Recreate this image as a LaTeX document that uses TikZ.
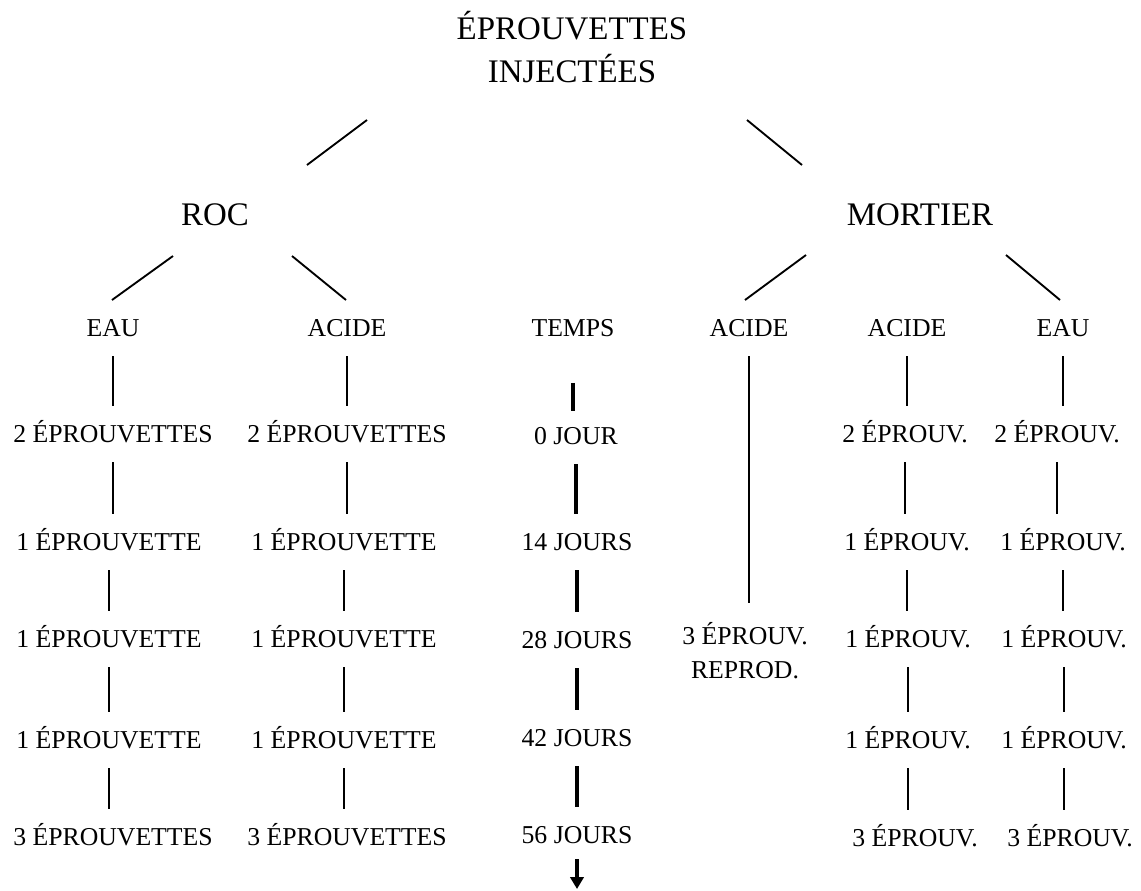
\documentclass[tikz,border=0pt]{standalone}
\usepackage{fontspec}
\setmainfont{Liberation Serif}
\usetikzlibrary{calc,arrows.meta}

\tikzset{every picture/.style={line width=1.4pt}}
\tikzset{
  lbl/.style={font=\fontsize{19.3}{25.5}\selectfont, inner sep=0pt, text height=12.8pt, text depth=0pt},
  lbltwo/.style={font=\fontsize{19.3}{25.5}\selectfont, inner sep=0pt, align=center},
  head/.style={font=\fontsize{24.7}{32}\selectfont, inner sep=0pt, align=center},
  vl/.style={shorten <=14pt, shorten >=14pt},
  tl/.style={vl, line width=2.8pt},
}

\begin{document}
\begin{tikzpicture}[x=0.75pt,y=0.75pt,yscale=-1]
\useasboundingbox (0,0) rectangle (1141,890);

% Text Node
\node[head] (titre) at (572,47) {ÉPROUVETTES\\INJECTÉES};
% Text Node
\node[head] (roc) at (215,215) {ROC};
% Text Node
\node[head] (mortier) at (920,215) {MORTIER};

% Text Node
\node[lbl] (reau) at (113,328) {EAU};
% Text Node
\node[lbl] (racide) at (347,328) {ACIDE};
% Text Node
\node[lbl] (temps) at (573,328) {TEMPS};
% Text Node
\node[lbl] (mrepacide) at (749,328) {ACIDE};
% Text Node
\node[lbl] (macide) at (907,328) {ACIDE};
% Text Node
\node[lbl] (meau) at (1063,328) {EAU};

%Straight Lines, title to ROC and MORTIER
\draw ($(titre)+(-205,73)$) -- ($(roc)+(92,-50)$);
\draw ($(titre)+(175,73)$) -- ($(mortier)+(-118,-50)$);
%Straight Lines, ROC
\draw ($(roc)+(-42,41)$) -- ($(reau)+(-1,-28)$);
\draw ($(roc)+(77,41)$) -- ($(racide)+(-1,-28)$);
%Straight Lines, MORTIER
\draw ($(mortier)+(-114,40)$) -- ($(mrepacide)+(-4,-28)$);
\draw ($(mortier)+(86,40)$) -- ($(meau)+(-3,-28)$);

% Text Node, ROC / EAU
\node[lbl] (reau1) at (113,434) {2 ÉPROUVETTES};
\node[lbl] (reau2) at (109,542) {1 ÉPROUVETTE};
\node[lbl] (reau3) at (109,639) {1 ÉPROUVETTE};
\node[lbl] (reau4) at (109,740) {1 ÉPROUVETTE};
\node[lbl] (reau5) at (113,837) {3 ÉPROUVETTES};
% Text Node, ROC / ACIDE
\node[lbl] (racide1) at (347,434) {2 ÉPROUVETTES};
\node[lbl] (racide2) at (344,542) {1 ÉPROUVETTE};
\node[lbl] (racide3) at (344,639) {1 ÉPROUVETTE};
\node[lbl] (racide4) at (344,740) {1 ÉPROUVETTE};
\node[lbl] (racide5) at (347,837) {3 ÉPROUVETTES};
% Text Node, TEMPS
\node[lbl] (t0) at (576,436) {0 JOUR};
\node[lbl] (t14) at (577,542) {14 JOURS};
\node[lbl] (t28) at (577,640) {28 JOURS};
\node[lbl] (t42) at (577,738) {42 JOURS};
\node[lbl] (t56) at (577,835) {56 JOURS};
\coordinate (tfin) at (575,889);
% Text Node, MORTIER / ACIDE (reprod.)
\node[lbltwo] (mrep) at (745,651) {3 ÉPROUV.\\REPROD.};
% Text Node, MORTIER / ACIDE
\node[lbl] (macide1) at (905,434) {2 ÉPROUV.};
\node[lbl] (macide2) at (907,542) {1 ÉPROUV.};
\node[lbl] (macide3) at (908,639) {1 ÉPROUV.};
\node[lbl] (macide4) at (908,740) {1 ÉPROUV.};
\node[lbl] (macide5) at (915,838) {3 ÉPROUV.};
% Text Node, MORTIER / EAU
\node[lbl] (meau1) at (1057,434) {2 ÉPROUV.};
\node[lbl] (meau2) at (1063,542) {1 ÉPROUV.};
\node[lbl] (meau3) at (1064,639) {1 ÉPROUV.};
\node[lbl] (meau4) at (1064,740) {1 ÉPROUV.};
\node[lbl] (meau5) at (1070,838) {3 ÉPROUV.};

%Vertical Lines, ROC / EAU
\draw[vl] (reau.south) -- (reau.south |- reau1.north);
\draw[vl] (reau1.south) -- (reau1.south |- reau2.north);
\draw[vl] (reau2.south) -- (reau2.south |- reau3.north);
\draw[vl] (reau3.south) -- (reau3.south |- reau4.north);
\draw[vl] (reau4.south) -- (reau4.south |- reau5.north);
%Vertical Lines, ROC / ACIDE
\draw[vl] (racide.south) -- (racide.south |- racide1.north);
\draw[vl] (racide1.south) -- (racide1.south |- racide2.north);
\draw[vl] (racide2.south) -- (racide2.south |- racide3.north);
\draw[vl] (racide3.south) -- (racide3.south |- racide4.north);
\draw[vl] (racide4.south) -- (racide4.south |- racide5.north);
%Thick Lines, TEMPS
\draw[tl, shorten <=34pt, shorten >=12pt] (temps.south) -- (temps.south |- t0.north);
\draw[tl] (t0.south) -- (t0.south |- t14.north);
\draw[tl] (t14.south) -- (t14.south |- t28.north);
\draw[tl] (t28.south) -- (t28.south |- t42.north);
\draw[tl] (t42.south) -- (t42.south |- t56.north);
\draw[tl, shorten <=11pt, shorten >=0pt, -{Triangle[width=10pt,length=9pt]}] (t56.south) -- (t56.south |- tfin);
%Vertical Lines, MORTIER / ACIDE (reprod.)
\draw[vl] (mrepacide.south) -- (mrepacide.south |- mrep.north);
%Vertical Lines, MORTIER / ACIDE
\draw[vl] (macide.south) -- (macide.south |- macide1.north);
\draw[vl] (macide1.south) -- (macide1.south |- macide2.north);
\draw[vl] (macide2.south) -- (macide2.south |- macide3.north);
\draw[vl] (macide3.south) -- (macide3.south |- macide4.north);
\draw[vl] (macide4.south) -- (macide4.south |- macide5.north);
%Vertical Lines, MORTIER / EAU
\draw[vl] (meau.south) -- (meau.south |- meau1.north);
\draw[vl] (meau1.south) -- (meau1.south |- meau2.north);
\draw[vl] (meau2.south) -- (meau2.south |- meau3.north);
\draw[vl] (meau3.south) -- (meau3.south |- meau4.north);
\draw[vl] (meau4.south) -- (meau4.south |- meau5.north);

\end{tikzpicture}
\end{document}
